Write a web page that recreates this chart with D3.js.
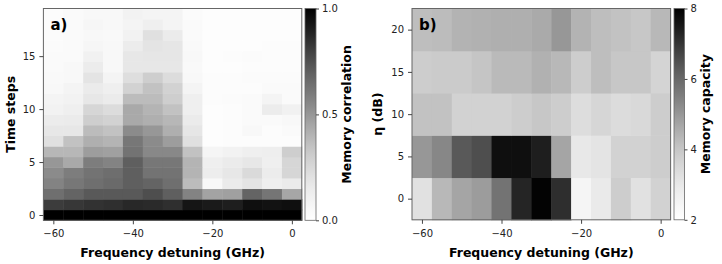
<!DOCTYPE html>
<html>
<head>
<meta charset="utf-8">
<script src="https://cdn.jsdelivr.net/npm/d3@7"></script>
<style>
  body { margin: 0; background: #fff; }
  svg { font-family: "DejaVu Sans", sans-serif; }
  .tick text { fill: #222; }
</style>
</head>
<body>
<svg id="chart" width="722" height="264"></svg>
<script>
// Frequency detuning (GHz), column centres shared by both panels
const detuning = [-60, -55, -50, -45, -40, -35, -30, -25, -20, -15, -10, -5, 0];

// Panel a) memory correlation, one row per time step (0 at bottom)
const timeSteps = [0, 1, 2, 3, 4, 5, 6, 7, 8, 9, 10, 11, 12, 13, 14, 15, 16, 17, 18, 19];
const correlation = [
  [1.00, 1.00, 1.00, 1.00, 1.00, 1.00, 1.00, 1.00, 1.00, 1.00, 1.00, 1.00, 1.00],
  [0.81, 0.825, 0.84, 0.85, 0.87, 0.865, 0.85, 0.93, 0.915, 0.90, 0.95, 0.94, 0.95],
  [0.64, 0.68, 0.72, 0.72, 0.72, 0.755, 0.70, 0.57, 0.46, 0.47, 0.68, 0.62, 0.45],
  [0.57, 0.61, 0.64, 0.66, 0.70, 0.68, 0.64, 0.37, 0.06, 0.15, 0.19, 0.125, 0.15],
  [0.54, 0.59, 0.625, 0.645, 0.70, 0.625, 0.625, 0.40, 0.135, 0.17, 0.24, 0.14, 0.26],
  [0.50, 0.44, 0.59, 0.57, 0.70, 0.61, 0.61, 0.40, 0.125, 0.15, 0.17, 0.125, 0.26],
  [0.39, 0.39, 0.48, 0.47, 0.625, 0.55, 0.55, 0.35, 0.08, 0.10, 0.125, 0.13, 0.30],
  [0.21, 0.35, 0.42, 0.40, 0.61, 0.54, 0.48, 0.21, 0.02, 0.025, 0.025, 0.025, 0.025],
  [0.17, 0.17, 0.37, 0.35, 0.54, 0.50, 0.42, 0.18, 0.02, 0.025, 0.06, 0.025, 0.04],
  [0.14, 0.15, 0.30, 0.28, 0.44, 0.42, 0.39, 0.15, 0.02, 0.025, 0.04, 0.04, 0.06],
  [0.10, 0.125, 0.26, 0.23, 0.44, 0.40, 0.35, 0.125, 0.017, 0.025, 0.04, 0.14, 0.11],
  [0.085, 0.10, 0.17, 0.15, 0.37, 0.37, 0.30, 0.125, 0.025, 0.03, 0.04, 0.085, 0.04],
  [0.06, 0.085, 0.15, 0.125, 0.28, 0.35, 0.28, 0.085, 0.025, 0.025, 0.025, 0.04, 0.04],
  [0.05, 0.06, 0.19, 0.085, 0.22, 0.30, 0.23, 0.06, 0.025, 0.025, 0.03, 0.03, 0.03],
  [0.04, 0.06, 0.14, 0.06, 0.17, 0.17, 0.17, 0.05, 0.02, 0.02, 0.025, 0.025, 0.025],
  [0.04, 0.04, 0.11, 0.06, 0.17, 0.18, 0.18, 0.06, 0.02, 0.025, 0.03, 0.025, 0.025],
  [0.03, 0.04, 0.075, 0.06, 0.14, 0.19, 0.18, 0.05, 0.02, 0.02, 0.02, 0.025, 0.025],
  [0.03, 0.04, 0.06, 0.05, 0.10, 0.21, 0.15, 0.04, 0.02, 0.02, 0.02, 0.02, 0.02],
  [0.025, 0.04, 0.075, 0.06, 0.085, 0.12, 0.085, 0.04, 0.02, 0.02, 0.02, 0.02, 0.02],
  [0.025, 0.04, 0.06, 0.06, 0.10, 0.085, 0.09, 0.03, 0.02, 0.02, 0.02, 0.02, 0.02]
];

// Panel b) memory capacity, one row per eta (dB)
const etaDb = [0, 5, 10, 15, 20];
const capacity = [
  [3.24, 4.33, 4.71, 4.90, 5.75, 7.28, 7.94, 7.12, 2.50, 2.91, 3.82, 3.24, 3.69],
  [5.00, 5.32, 6.32, 6.54, 7.70, 7.70, 7.40, 4.71, 3.01, 3.14, 3.69, 3.69, 3.82],
  [4.09, 4.09, 3.69, 3.69, 3.69, 3.82, 3.96, 3.82, 3.34, 3.55, 3.40, 3.47, 3.82],
  [3.82, 3.86, 3.86, 4.01, 4.28, 4.28, 4.46, 4.33, 3.82, 4.19, 3.96, 3.96, 3.63],
  [4.19, 4.22, 4.42, 4.46, 4.52, 4.52, 4.62, 5.00, 4.42, 4.19, 4.09, 3.96, 4.33]
];

// tick labels
const xTicks = [-60, -40, -20, 0];
const timeTicks = [0, 5, 10, 15];
const etaTicks = [0, 5, 10, 15, 20];
const corrTicks = [0, 0.5, 1.0];
const capTicks = [2, 4, 6, 8];

const svg = d3.select('#chart');
const defs = svg.append('defs');

function drawPanel(cfg) {
  const x = d3.scaleLinear().domain([-62.5, 2.5]).range([cfg.left, cfg.right]);
  const y = d3.scaleLinear().domain(cfg.yDomain).range([cfg.bottom, cfg.top]);
  const color = d3.scaleSequential(d3.interpolateGreys).domain(cfg.cDomain);
  const half = cfg.yStep / 2;

  const g = svg.append('g');

  // heatmap cells
  cfg.rows.forEach((rowVal, ri) => {
    g.append('g')
      .selectAll('rect')
      .data(cfg.values[ri])
      .enter()
      .append('rect')
      .attr('x', (d, i) => x(detuning[i] - 2.5))
      .attr('y', y(rowVal + half))
      .attr('width', (d, i) => x(detuning[i] + 2.5) - x(detuning[i] - 2.5) + 0.5)
      .attr('height', y(rowVal - half) - y(rowVal + half) + 0.5)
      .attr('fill', d => color(d));
  });

  // frame
  g.append('rect')
    .attr('x', cfg.left).attr('y', cfg.top)
    .attr('width', cfg.right - cfg.left).attr('height', cfg.bottom - cfg.top)
    .attr('fill', 'none').attr('stroke', '#666').attr('stroke-width', 1);

  // axes
  const xAxis = g.append('g')
    .attr('transform', `translate(0,${cfg.bottom})`)
    .call(d3.axisBottom(x).tickValues(xTicks).tickSizeOuter(0).tickSize(4).tickPadding(6));
  const yAxis = g.append('g')
    .attr('transform', `translate(${cfg.left},0)`)
    .call(d3.axisLeft(y).tickValues(cfg.yTicks).tickSizeOuter(0).tickSize(4).tickPadding(4));
  [xAxis, yAxis].forEach(a => {
    a.select('.domain').remove();
    a.selectAll('.tick line').attr('stroke', '#444');
    a.selectAll('.tick text').style('font-size', '10px').style('font-family', '"DejaVu Sans", sans-serif');
  });

  // axis labels
  g.append('text')
    .attr('x', (cfg.left + cfg.right) / 2)
    .attr('y', 257)
    .attr('text-anchor', 'middle')
    .style('font-size', '12.5px').style('font-weight', 'bold')
    .text('Frequency detuning (GHz)');
  g.append('text')
    .attr('transform', `translate(${cfg.yLabelX},${(cfg.top + cfg.bottom) / 2}) rotate(-90)`)
    .attr('text-anchor', 'middle')
    .attr('dy', '0.35em')
    .style('font-size', '12.5px').style('font-weight', 'bold')
    .text(cfg.yLabel);

  // panel letter
  g.append('text')
    .attr('x', cfg.left + 7).attr('y', cfg.top + 21)
    .style('font-size', '15px').style('font-weight', 'bold')
    .text(cfg.letter);

  // colorbar
  const gradId = 'grad-' + cfg.letter.charAt(0);
  const grad = defs.append('linearGradient')
    .attr('id', gradId).attr('x1', 0).attr('y1', 1).attr('x2', 0).attr('y2', 0);
  d3.range(0, 1.0001, 0.05).forEach(t => {
    grad.append('stop').attr('offset', t).attr('stop-color', d3.interpolateGreys(t));
  });
  g.append('rect')
    .attr('x', cfg.cbLeft).attr('y', cfg.top)
    .attr('width', cfg.cbWidth).attr('height', cfg.bottom - cfg.top)
    .attr('fill', `url(#${gradId})`)
    .attr('stroke', '#666').attr('stroke-width', 0.8);
  const cy = d3.scaleLinear().domain(cfg.cDomain).range([cfg.bottom, cfg.top]);
  const cAxis = g.append('g')
    .attr('transform', `translate(${cfg.cbLeft + cfg.cbWidth},0)`)
    .call(d3.axisRight(cy).tickValues(cfg.cTicks).tickFormat(cfg.cFormat).tickSizeOuter(0).tickSize(3).tickPadding(3));
  cAxis.select('.domain').remove();
  cAxis.selectAll('.tick line').attr('stroke', '#444');
  cAxis.selectAll('.tick text').style('font-size', '10px').style('font-family', '"DejaVu Sans", sans-serif');

  g.append('text')
    .attr('transform', `translate(${cfg.cLabelX},${(cfg.top + cfg.bottom) / 2}) rotate(-90)`)
    .attr('text-anchor', 'middle')
    .attr('dy', '0.35em')
    .style('font-size', '12.5px').style('font-weight', 'bold')
    .text(cfg.cLabel);
}

drawPanel({
  letter: 'a)',
  left: 43.4, right: 301.8, top: 8.5, bottom: 220.3,
  rows: timeSteps, values: correlation, yStep: 1, yDomain: [-0.5, 19.5],
  yTicks: timeTicks, yLabel: 'Time steps', yLabelX: 11,
  cDomain: [0, 1], cTicks: corrTicks, cFormat: d3.format('.1f'),
  cbLeft: 305, cbWidth: 11, cLabel: 'Memory correlation', cLabelX: 347
});

drawPanel({
  letter: 'b)',
  left: 412, right: 670.6, top: 8.5, bottom: 219.8,
  rows: etaDb, values: capacity, yStep: 5, yDomain: [-2.5, 22.5],
  yTicks: etaTicks, yLabel: 'η (dB)', yLabelX: 378,
  cDomain: [2, 8], cTicks: capTicks, cFormat: d3.format('d'),
  cbLeft: 674, cbWidth: 10.5, cLabel: 'Memory capacity', cLabelX: 706
});
</script>
</body>
</html>
